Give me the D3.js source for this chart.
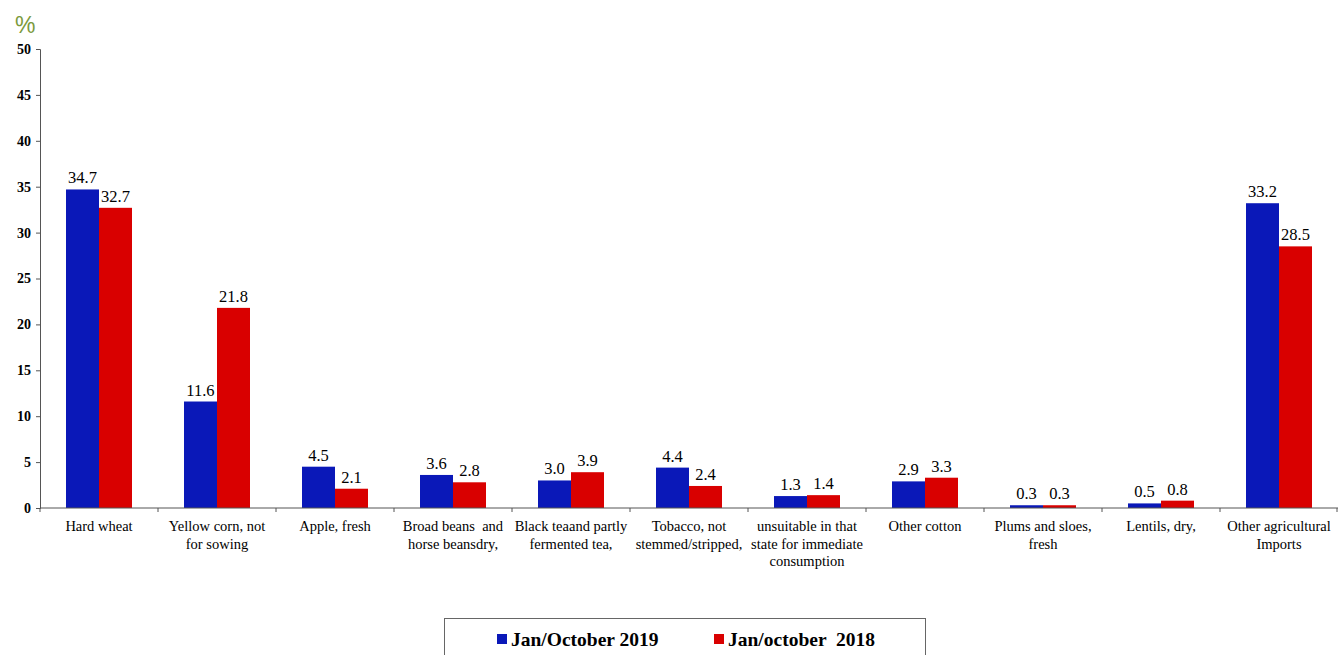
<!DOCTYPE html>
<html><head><meta charset="utf-8">
<script src="https://cdn.jsdelivr.net/npm/d3@7"></script>
<style>body{margin:0;background:#fff;}svg{display:block;}</style>
</head><body>
<svg id="c" width="1338" height="655"></svg>
<script>
const categories = [
  ["Hard wheat"],
  ["Yellow corn, not", "for sowing"],
  ["Apple, fresh"],
  ["Broad beans  and", "horse beansdry,"],
  ["Black teaand partly", "fermented tea,"],
  ["Tobacco, not", "stemmed/stripped,"],
  ["unsuitable in that", "state for immediate", "consumption"],
  ["Other cotton"],
  ["Plums and sloes,", "fresh"],
  ["Lentils, dry,"],
  ["Other agricultural", "Imports"]
];
const series2019 = [34.7, 11.6, 4.5, 3.6, 3.0, 4.4, 1.3, 2.9, 0.3, 0.5, 33.2];
const series2018 = [32.7, 21.8, 2.1, 2.8, 3.9, 2.4, 1.4, 3.3, 0.3, 0.8, 28.5];
const seriesNames = ["Jan/October 2019", "Jan/october  2018"];
const yTicks = [0, 5, 10, 15, 20, 25, 30, 35, 40, 45, 50];

const svg = d3.select("#c");
const colors = ["#0A18B8", "#D90000"];
const mLeft = 40, mRight = 1338, mTop = 49, mBottom = 508;

const x = d3.scaleBand().domain(d3.range(categories.length)).range([mLeft, mRight]).paddingInner(0).paddingOuter(0);
const x1 = d3.scaleBand().domain([0, 1]).range([26, x.bandwidth() - 26]);
const y = d3.scaleLinear().domain([0, 50]).range([mBottom, mTop]);

// y axis
const ya = svg.append("g").attr("transform", `translate(${mLeft},0)`)
  .call(d3.axisLeft(y).tickValues(yTicks).tickSize(4).tickFormat(d3.format("d")));
ya.select(".domain").attr("stroke", "#555");
ya.selectAll(".tick line").attr("stroke", "#555");
ya.selectAll(".tick text").attr("font-family", "Liberation Serif").attr("font-weight", "bold")
  .attr("font-size", 14).attr("fill", "#000").attr("x", -9);

// bars
const data = categories.map((c, i) => [series2019[i], series2018[i]]);
const groups = svg.append("g").selectAll("g").data(data).join("g")
  .attr("transform", (d, i) => `translate(${x(i)},0)`);
groups.selectAll("rect").data(d => d).join("rect")
  .attr("x", (d, j) => x1(j)).attr("width", x1.bandwidth())
  .attr("y", d => y(d)).attr("height", d => y(0) - y(d))
  .attr("fill", (d, j) => colors[j]);
groups.selectAll("text").data(d => d).join("text")
  .attr("x", (d, j) => x1(j) + x1.bandwidth() / 2)
  .attr("y", d => y(d) - 6)
  .attr("text-anchor", "middle")
  .attr("font-family", "Liberation Serif").attr("font-size", 16.5).attr("fill", "#000")
  .text(d => d.toFixed(1));

// x axis
const xa = svg.append("g");
xa.append("line").attr("x1", mLeft).attr("x2", mRight).attr("y1", mBottom).attr("y2", mBottom).attr("stroke", "#555");
xa.selectAll("line.t").data(d3.range(categories.length + 1)).join("line").attr("class", "t")
  .attr("x1", i => i < categories.length ? x(i) : mRight - 1).attr("x2", i => i < categories.length ? x(i) : mRight - 1)
  .attr("y1", mBottom).attr("y2", mBottom + 4).attr("stroke", "#555");
xa.selectAll("text").data(categories).join("text")
  .attr("text-anchor", "middle")
  .attr("font-family", "Liberation Serif").attr("font-size", 14.5).attr("fill", "#000")
  .style("white-space", "pre")
  .each(function (d, i) {
    d3.select(this).selectAll("tspan").data(d).join("tspan")
      .attr("x", x(i) + x.bandwidth() / 2)
      .attr("y", (l, k) => 531 + k * 17.5)
      .text(l => l);
  });

// % label
svg.append("text").attr("x", 15).attr("y", 33).attr("font-family", "Liberation Sans Narrow, Liberation Sans")
  .attr("font-size", 23).attr("fill", "#7B9A3C").text("%");

// legend
svg.append("rect").attr("x", 444.5).attr("y", 618.5).attr("width", 481).attr("height", 45)
  .attr("fill", "#fff").attr("stroke", "#666");
const legX = [497, 714];
seriesNames.forEach((n, j) => {
  svg.append("rect").attr("x", legX[j]).attr("y", 634).attr("width", 10).attr("height", 10).attr("fill", colors[j]);
  svg.append("text").attr("x", legX[j] + 14).attr("y", 646)
    .attr("font-family", "Liberation Serif").attr("font-weight", "bold").attr("font-size", 19.5)
    .attr("fill", "#000").style("white-space", "pre").text(n);
});
</script>
</body></html>
